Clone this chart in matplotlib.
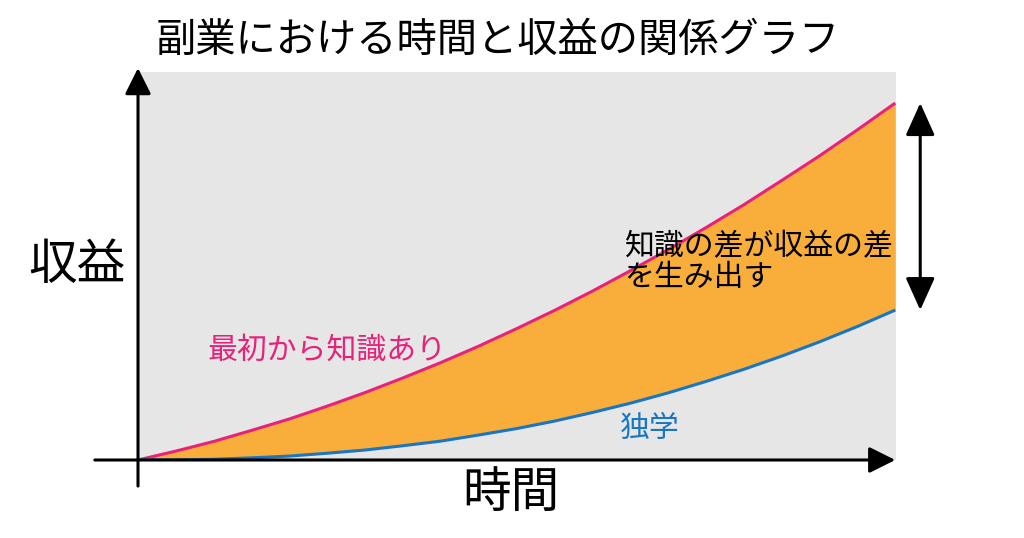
import matplotlib
matplotlib.use("Agg")
import matplotlib.pyplot as plt

plt.rcParams['font.family'] = ['Noto Sans CJK JP', 'DejaVu Sans']

# time axis (0..10) and the two revenue curves
time = [0, 0.5, 1, 1.5, 2, 2.5, 3, 3.5, 4, 4.5, 5,
        5.5, 6, 6.5, 7, 7.5, 8, 8.5, 9, 9.5, 10]
with_knowledge = [0, 0.25, 0.52, 0.83, 1.15, 1.51, 1.89, 2.30, 2.73, 3.19, 3.68,
                  4.19, 4.73, 5.30, 5.89, 6.51, 7.15, 7.83, 8.52, 9.25, 10.0]
self_study = [0, 0.005, 0.02, 0.06, 0.11, 0.19, 0.28, 0.40, 0.53, 0.70, 0.88,
              1.09, 1.33, 1.59, 1.88, 2.20, 2.54, 2.91, 3.31, 3.74, 4.2]

title = "副業における時間と収益の関係グラフ"
xlabel = "時間"
ylabel = "収益"
label_knowledge = "最初から知識あり"
label_self = "独学"
gap_note = "知識の差が収益の差\nを生み出す"

pink = "#e8227b"
blue = "#1a76c0"
orange = "#f9ae3b"
gray = "#e6e6e6"

W, H = 1024, 538
fig = plt.figure(figsize=(W / 100, H / 100), dpi=100)
# plot area: x 138..896 px, y 72..460 px
ax = fig.add_axes([138 / W, (H - 460) / H, (896 - 138) / W, (460 - 72) / H])
ax.set_facecolor(gray)
ax.set_xlim(0, 10.01)
ax.set_ylim(0, 10.87)
for s in ax.spines.values():
    s.set_visible(False)
ax.set_xticks([])
ax.set_yticks([])

ax.fill_between(time, self_study, with_knowledge, color=orange, lw=0, zorder=1)
ax.plot(time, with_knowledge, color=pink, lw=2.2, zorder=3, solid_capstyle='butt')
ax.plot(time, self_study, color=blue, lw=2.2, zorder=3, solid_capstyle='butt')

# axis arrows
arrow_kw = dict(arrowstyle='-|>,head_length=1.6,head_width=0.8', color='black',
                lw=2.2, mutation_scale=10, shrinkA=0, shrinkB=0)
ax.annotate('', xy=(0, 10.98), xytext=(0, -0.73), arrowprops=arrow_kw,
            annotation_clip=False, zorder=5)
ax.annotate('', xy=(10.0, 0), xytext=(-0.57, 0), arrowprops=arrow_kw,
            annotation_clip=False, zorder=5)

# double arrow showing the gap
gap_kw = dict(arrowstyle='<|-|>,head_length=2.0,head_width=0.9', color='black',
              lw=2.2, mutation_scale=10, shrinkA=0, shrinkB=0)
ax.annotate('', xy=(10.33, with_knowledge[-1]), xytext=(10.33, self_study[-1]),
            arrowprops=gap_kw, annotation_clip=False, zorder=5)

# texts in pixel positions via figure coordinates
def fx(px):
    return px / W

def fy(py):
    return (H - py) / H

fig.text(fx(498), fy(40), title, fontsize=29, ha='center', va='center')
fig.text(fx(77), fy(265), ylabel, fontsize=35, ha='center', va='center')
fig.text(fx(511), fy(493), xlabel, fontsize=35, ha='center', va='center')
fig.text(fx(327), fy(350), label_knowledge, fontsize=21.5, color=pink,
         ha='center', va='center')
fig.text(fx(650), fy(428), label_self, fontsize=21.5, color=blue,
         ha='center', va='center')
fig.text(fx(624), fy(262), gap_note, fontsize=21.5, color='black',
         ha='left', va='center', linespacing=1.0)

fig.savefig("out.png", dpi=100)
